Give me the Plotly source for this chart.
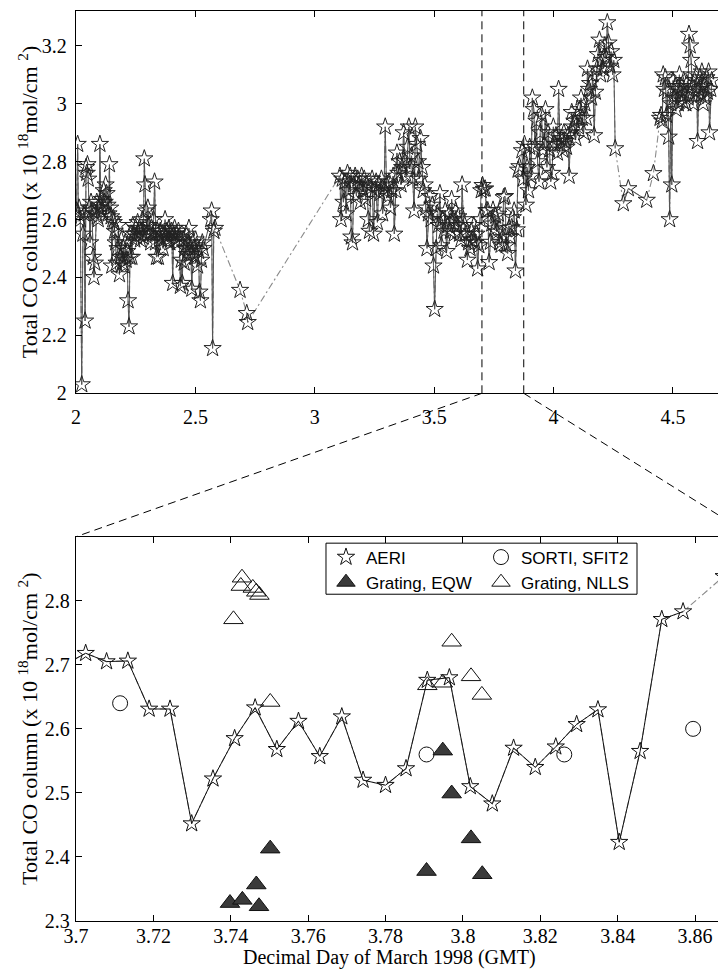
import plotly.graph_objects as go

# ---------------- AERI total CO column (x10^18 mol/cm^2), runs of consecutive retrievals ----------------
day_r1 = [2.002, 2.007, 2.010, 2.013, 2.018, 2.024, 2.029, 2.034, 2.038, 2.042, 2.045, 2.048, 2.051, 2.055, 2.059,
          2.063, 2.067, 2.072, 2.075, 2.079, 2.083, 2.087, 2.090, 2.093, 2.097, 2.100, 2.104, 2.108, 2.112, 2.116,
          2.120, 2.124, 2.128, 2.132, 2.136, 2.140, 2.143, 2.147, 2.150, 2.154, 2.158, 2.162, 2.166, 2.170, 2.174,
          2.178, 2.182, 2.186, 2.190, 2.194, 2.198, 2.202, 2.206, 2.210, 2.214, 2.218, 2.222, 2.226, 2.230, 2.234,
          2.238, 2.242, 2.246, 2.250, 2.254, 2.258, 2.262, 2.266, 2.270, 2.274, 2.278, 2.282, 2.286, 2.289, 2.293,
          2.297, 2.301, 2.305, 2.309, 2.313, 2.317, 2.321, 2.325, 2.329, 2.333, 2.337, 2.341, 2.345, 2.349, 2.353,
          2.357, 2.361, 2.365, 2.369, 2.373, 2.377, 2.381, 2.385, 2.389, 2.393, 2.397, 2.401, 2.405, 2.409, 2.413,
          2.417, 2.421, 2.425, 2.429, 2.433, 2.437, 2.441, 2.445, 2.449, 2.453, 2.457, 2.461, 2.465, 2.469, 2.473,
          2.477, 2.481, 2.485, 2.489, 2.493, 2.497, 2.501, 2.505, 2.509, 2.513, 2.517, 2.521, 2.525, 2.529, 2.533,
          2.564, 2.568, 2.572, 2.577, 2.582]
co_r1 = [2.63, 2.86, 2.62, 2.64, 2.60, 2.03, 2.55, 2.62, 2.25, 2.78, 2.76, 2.79, 2.74, 2.64, 2.52,
         2.66, 2.63, 2.47, 2.40, 2.45, 2.62, 2.66, 2.61, 2.60, 2.64, 2.86, 2.65, 2.67, 2.63, 2.70,
         2.66, 2.72, 2.69, 2.65, 2.62, 2.79, 2.64, 2.61, 2.44, 2.60, 2.59, 2.56, 2.52, 2.45, 2.50,
         2.58, 2.41, 2.47, 2.53, 2.45, 2.50, 2.44, 2.52, 2.46, 2.49, 2.32, 2.23, 2.47, 2.55, 2.47,
         2.58, 2.55, 2.53, 2.57, 2.54, 2.59, 2.55, 2.57, 2.53, 2.56, 2.60, 2.54, 2.81, 2.72, 2.63,
         2.55, 2.64, 2.58, 2.55, 2.52, 2.57, 2.55, 2.60, 2.73, 2.52, 2.47, 2.56, 2.47, 2.54, 2.56,
         2.53, 2.55, 2.50, 2.55, 2.60, 2.54, 2.56, 2.53, 2.57, 2.52, 2.55, 2.56, 2.38, 2.55, 2.57,
         2.53, 2.55, 2.52, 2.56, 2.54, 2.37, 2.46, 2.38, 2.53, 2.45, 2.50, 2.55, 2.48, 2.52, 2.57,
         2.50, 2.48, 2.36, 2.52, 2.50, 2.47, 2.53, 2.51, 2.44, 2.49, 2.35, 2.32, 2.46, 2.52, 2.50,
         2.60, 2.63, 2.155, 2.56, 2.57]

day_r2 = [2.687]
co_r2 = [2.356]

day_r3 = [2.715, 2.719]
co_r3 = [2.276, 2.245]

day_r4 = [3.105, 3.110, 3.115, 3.120, 3.126, 3.131, 3.137, 3.142, 3.148, 3.153, 3.158, 3.163, 3.169, 3.174, 3.180,
          3.185, 3.191, 3.196, 3.202, 3.207, 3.213, 3.218, 3.224, 3.229, 3.235, 3.240, 3.246, 3.251, 3.257, 3.262,
          3.268, 3.273, 3.279, 3.284, 3.290, 3.295, 3.300, 3.306, 3.311, 3.317, 3.322, 3.328, 3.333, 3.339, 3.344,
          3.350, 3.355, 3.361, 3.366, 3.372, 3.377, 3.383, 3.388, 3.394, 3.399, 3.405, 3.410, 3.416, 3.421, 3.427,
          3.432, 3.438, 3.443, 3.449, 3.454, 3.460, 3.465, 3.470, 3.476, 3.481, 3.487, 3.492, 3.497, 3.502, 3.508,
          3.513, 3.519, 3.524, 3.530, 3.535, 3.541, 3.546, 3.552, 3.557, 3.563, 3.568, 3.573, 3.579, 3.584, 3.590,
          3.595, 3.601, 3.606, 3.612, 3.617, 3.622, 3.628, 3.633, 3.639, 3.644, 3.650, 3.655, 3.660, 3.666, 3.671,
          3.677, 3.682, 3.687, 3.692, 3.697,
          3.7025, 3.7079, 3.7134, 3.7189, 3.7243, 3.7299, 3.7354, 3.7410, 3.7463, 3.7519, 3.7575, 3.7630, 3.7687,
          3.7742, 3.7800, 3.7853, 3.7908, 3.7965, 3.8019, 3.8076, 3.8131, 3.8187, 3.8240, 3.8294, 3.8349, 3.8404,
          3.8458, 3.8514, 3.8569]
co_r4 = [2.75, 2.60, 2.74, 2.66, 2.73, 2.62, 2.76, 2.70, 2.75, 2.54, 2.52, 2.72, 2.75, 2.68, 2.74,
         2.72, 2.66, 2.75, 2.70, 2.74, 2.67, 2.72, 2.60, 2.56, 2.71, 2.74, 2.55, 2.70, 2.73, 2.59,
         2.72, 2.69, 2.74, 2.62, 2.70, 2.92, 2.72, 2.68, 2.73, 2.64, 2.70, 2.75, 2.55, 2.70, 2.83,
         2.76, 2.80, 2.72, 2.78, 2.90, 2.80, 2.75, 2.85, 2.92, 2.78, 2.82, 2.74, 2.63, 2.92, 2.86,
         2.80, 2.74, 2.88, 2.78, 2.70, 2.72, 2.64, 2.50, 2.62, 2.68, 2.60, 2.65, 2.44, 2.29, 2.50,
         2.62, 2.58, 2.69, 2.51, 2.60, 2.56, 2.63, 2.49, 2.58, 2.62, 2.56, 2.67, 2.60, 2.55, 2.63,
         2.58, 2.61, 2.55, 2.53, 2.72, 2.60, 2.58, 2.55, 2.46, 2.52, 2.50, 2.56, 2.53, 2.58, 2.52,
         2.55, 2.43, 2.51, 2.60, 2.70,
         2.718, 2.705, 2.706, 2.631, 2.631, 2.452, 2.522, 2.585, 2.633, 2.568, 2.612, 2.557, 2.619,
         2.520, 2.512, 2.538, 2.676, 2.680, 2.510, 2.483, 2.570, 2.540, 2.572, 2.607, 2.630, 2.423,
         2.565, 2.771, 2.783]

day_r5 = [3.8674, 3.873, 3.878, 3.884, 3.889, 3.895, 3.900, 3.906, 3.911, 3.917, 3.922, 3.928, 3.933, 3.939, 3.944,
          3.950, 3.955, 3.961, 3.966, 3.972, 3.977, 3.983, 3.988, 3.994, 3.999, 4.005, 4.010, 4.016, 4.021, 4.027,
          4.032, 4.038, 4.043, 4.049, 4.054, 4.060, 4.065, 4.071, 4.076, 4.082, 4.087, 4.093, 4.098, 4.104, 4.109,
          4.115, 4.120, 4.126, 4.131, 4.137, 4.142, 4.148, 4.153, 4.159, 4.164, 4.170, 4.175, 4.181, 4.186, 4.192,
          4.197, 4.203, 4.208, 4.214, 4.219, 4.225, 4.230, 4.236, 4.241, 4.247, 4.252, 4.258]
co_r5 = [2.838, 2.74, 2.86, 2.65, 2.78, 2.70, 2.85, 2.75, 3.02, 2.98, 2.85, 2.94, 2.80, 2.73, 2.90,
         2.96, 2.84, 2.86, 2.98, 2.78, 2.90, 2.84, 2.73, 2.76, 2.92, 2.86, 2.89, 2.83, 3.05, 2.86,
         2.88, 2.84, 2.90, 2.87, 2.85, 2.89, 2.75, 2.90, 2.97, 2.92, 2.94, 2.88, 2.96, 2.92, 2.98,
         3.02, 2.95, 2.90, 3.00, 2.95, 3.12, 3.05, 3.07, 3.02, 3.10, 2.89, 3.04, 3.12, 3.17, 3.22,
         3.10, 3.15, 3.12, 3.20, 3.16, 3.28, 3.21, 3.13, 3.18, 3.10, 3.15, 2.845]

day_r6 = [4.292, 4.313, 4.390]
co_r6 = [2.655, 2.707, 2.667]

day_r7 = [4.418]
co_r7 = [2.759]

day_r8 = [4.446, 4.450, 4.455, 4.459, 4.464, 4.468, 4.473, 4.477, 4.482, 4.486, 4.491, 4.495, 4.500, 4.504, 4.509,
          4.513, 4.518, 4.522, 4.527, 4.531, 4.536, 4.540, 4.545, 4.549, 4.554, 4.558, 4.563, 4.567, 4.572, 4.576,
          4.581, 4.585, 4.590, 4.594, 4.599, 4.603, 4.608, 4.612, 4.617, 4.621, 4.626, 4.630, 4.635, 4.640, 4.644,
          4.649, 4.653, 4.658, 4.662]
co_r8 = [2.95, 2.96, 2.94, 3.10, 3.05, 3.09, 2.96, 3.04, 2.885, 2.60, 3.00, 2.72, 3.08, 3.02, 3.06,
         2.98, 3.05, 3.00, 3.10, 3.04, 3.06, 3.01, 3.08, 3.03, 3.00, 3.07, 3.02, 3.24, 3.20, 3.15,
         3.06, 3.00, 3.08, 3.04, 3.10, 2.87, 3.05, 3.09, 3.03, 3.11, 3.00, 3.06, 3.02, 3.09, 3.04,
         3.11, 2.90, 3.05, 3.08]

# ---------------- Other instruments (zoom window) ----------------
sorti_day = [3.7114, 3.7906, 3.8262, 3.8595]
sorti_co = [2.640, 2.560, 2.560, 2.600]

eqw_day = [3.7398, 3.7430, 3.7466, 3.7473, 3.7502, 3.7906, 3.7948, 3.7971, 3.8021, 3.8050]
eqw_co = [2.328, 2.333, 2.357, 2.323, 2.413, 2.378, 2.566, 2.499, 2.429, 2.373]

nlls_day = [3.7407, 3.7426, 3.7429, 3.7457, 3.7466, 3.7474, 3.7502, 3.7908, 3.7948, 3.7971, 3.8021, 3.8049]
nlls_co = [2.771, 2.823, 2.836, 2.820, 2.814, 2.809, 2.642, 2.668, 2.672, 2.736, 2.682, 2.653]

# ---------------- Axis ticks ----------------
top_xticks = [2, 2.5, 3, 3.5, 4, 4.5]
top_xlabels = ["2", "2.5", "3", "3.5", "4", "4.5"]
top_yticks = [2, 2.2, 2.4, 2.6, 2.8, 3, 3.2]
top_ylabels = ["2", "2.2", "2.4", "2.6", "2.8", "3", "3.2"]
bot_xticks = [3.7, 3.72, 3.74, 3.76, 3.78, 3.8, 3.82, 3.84, 3.86]
bot_xlabels = ["3.7", "3.72", "3.74", "3.76", "3.78", "3.8", "3.82", "3.84", "3.86"]
bot_yticks = [2.3, 2.4, 2.5, 2.6, 2.7, 2.8]
bot_ylabels = ["2.3", "2.4", "2.5", "2.6", "2.7", "2.8"]

top_xrange = [2.0, 4.722]
top_yrange = [2.0, 3.32]
bot_xrange = [3.7, 3.868]
bot_yrange = [2.3, 2.9]
zoom_window = [3.7, 3.875]

runs = [(day_r1, co_r1), (day_r2, co_r2), (day_r3, co_r3), (day_r4, co_r4),
        (day_r5, co_r5), (day_r6, co_r6), (day_r7, co_r7), (day_r8, co_r8)]

all_day, all_co = [], []
solid_day, solid_co = [], []
for d, c in runs:
    all_day += d
    all_co += c
    solid_day += d + [None]
    solid_co += c + [None]

SERIF = "Liberation Serif, Times New Roman, serif"
SANS = "Liberation Sans, Arial, sans-serif"
top_dom = [0.5799, 1.0]
bot_dom = [0.0, 0.4223]

fig = go.Figure()

# ---- top panel ----
fig.add_trace(go.Scatter(x=all_day, y=all_co, mode="lines", xaxis="x", yaxis="y", showlegend=False,
                         line=dict(color="#8a8a8a", width=1.1, dash="7px,3px,2px,3px"), hoverinfo="skip"))
fig.add_trace(go.Scatter(x=solid_day, y=solid_co, mode="lines", xaxis="x", yaxis="y", showlegend=False,
                         connectgaps=False, line=dict(color="#555555", width=1), hoverinfo="skip"))
fig.add_trace(go.Scatter(x=all_day, y=all_co, mode="markers", xaxis="x", yaxis="y", showlegend=False,
                         marker=dict(symbol="star-open", size=13, color="#222222", line=dict(width=1, color="#222222"))))

# ---- bottom panel ----
fig.add_trace(go.Scatter(x=all_day, y=all_co, mode="lines", xaxis="x2", yaxis="y2", showlegend=False,
                         line=dict(color="#8a8a8a", width=1.1, dash="7px,3px,2px,3px"), hoverinfo="skip"))
fig.add_trace(go.Scatter(x=solid_day, y=solid_co, mode="lines", xaxis="x2", yaxis="y2", showlegend=False,
                         connectgaps=False, line=dict(color="#111111", width=1), hoverinfo="skip"))
fig.add_trace(go.Scatter(x=all_day, y=all_co, mode="markers", xaxis="x2", yaxis="y2", name="AERI",
                         legend="legend",
                         marker=dict(symbol="star-open", size=13, color="#111111", line=dict(width=1, color="#111111"))))
fig.add_trace(go.Scatter(x=sorti_day, y=sorti_co, mode="markers", xaxis="x2", yaxis="y2", name="SORTI, SFIT2",
                         legend="legend2",
                         marker=dict(symbol="circle-open", size=15, color="#111111", line=dict(width=1, color="#111111"))))
fig.add_trace(go.Scatter(x=eqw_day, y=eqw_co, mode="markers", xaxis="x2", yaxis="y2", name="Grating, EQW",
                         legend="legend",
                         marker=dict(symbol="triangle-up", size=17, color="#3a3a3a", line=dict(width=1, color="#111111"))))
fig.add_trace(go.Scatter(x=nlls_day, y=nlls_co, mode="markers", xaxis="x2", yaxis="y2", name="Grating, NLLS",
                         legend="legend2",
                         marker=dict(symbol="triangle-up-open", size=17, color="#111111", line=dict(width=1, color="#111111"))))

axis_common = dict(showline=True, linecolor="black", linewidth=1.3, ticks="inside", ticklen=6, tickwidth=1.2,
                   tickcolor="black", showgrid=False, zeroline=False, automargin=False,
                   tickfont=dict(family=SERIF, size=20, color="black"))

# the page body adds an 8px offset, so the figure is 8px smaller than the window
fig.update_layout(
    width=718, height=962,
    margin=dict(l=68, r=0, t=3, b=49),
    paper_bgcolor="white", plot_bgcolor="white",
    xaxis=dict(domain=[0, 1], anchor="y", range=top_xrange, tickvals=top_xticks, ticktext=top_xlabels,
               mirror="ticks", ticklabelstandoff=6, **axis_common),
    yaxis=dict(domain=top_dom, anchor="x", range=top_yrange, tickvals=top_yticks, ticktext=top_ylabels,
               ticklabelstandoff=4, **axis_common),
    xaxis2=dict(domain=[0, 1], anchor="y2", range=bot_xrange, tickvals=bot_xticks, ticktext=bot_xlabels,
                mirror="ticks", ticklabelstandoff=-3, **axis_common),
    yaxis2=dict(domain=bot_dom, anchor="x2", range=bot_yrange, tickvals=bot_yticks, ticktext=bot_ylabels,
                ticklabelstandoff=1, **axis_common),
    legend=dict(x=0.3846, y=0.4192, xanchor="left", yanchor="top", orientation="v",
                bgcolor="rgba(0,0,0,0)", borderwidth=0, font=dict(family=SANS, size=17, color="black"),
                itemclick=False, tracegroupgap=0),
    legend2=dict(x=0.6231, y=0.4192, xanchor="left", yanchor="top", orientation="v",
                 bgcolor="rgba(0,0,0,0)", borderwidth=0, font=dict(family=SANS, size=17, color="black"),
                 itemclick=False, tracegroupgap=0),
    showlegend=True,
)

# legend frame
fig.add_shape(type="rect", xref="paper", yref="paper", x0=0.3846, x1=0.8631, y0=0.3591, y1=0.4152,
              line=dict(color="black", width=1), fillcolor="white", layer="above")

# zoom-window markers on the top panel and connectors to the bottom panel
dash_style = dict(color="black", width=1, dash="8px,5px")
for xv in zoom_window:
    fig.add_shape(type="line", xref="x", yref="y domain", x0=xv, x1=xv, y0=0, y1=1, line=dash_style, layer="above")

def top_paper_x(v):
    return (v - top_xrange[0]) / (top_xrange[1] - top_xrange[0])

def bot_paper_x(v):
    return (v - bot_xrange[0]) / (bot_xrange[1] - bot_xrange[0])

for xv in zoom_window:
    fig.add_shape(type="line", xref="paper", yref="paper",
                  x0=top_paper_x(xv), y0=top_dom[0], x1=bot_paper_x(xv), y1=bot_dom[1], line=dash_style)

# axis titles
ytitle = "Total CO column (x 10 <sup>18</sup>mol/cm <sup>2</sup>)"
for yc in [(top_dom[0] + top_dom[1]) / 2, (bot_dom[0] + bot_dom[1]) / 2]:
    fig.add_annotation(text=ytitle, xref="paper", yref="paper", x=-0.0738, y=yc, textangle=-90,
                       showarrow=False, xanchor="center", yanchor="middle",
                       font=dict(family=SERIF, size=22, color="black"))
fig.add_annotation(text="Decimal Day of March 1998 (GMT)", xref="paper", yref="paper", x=0.483, y=-0.0405,
                   showarrow=False, xanchor="center", yanchor="middle",
                   font=dict(family=SERIF, size=20, color="black"))

fig.write_html("out.html")
